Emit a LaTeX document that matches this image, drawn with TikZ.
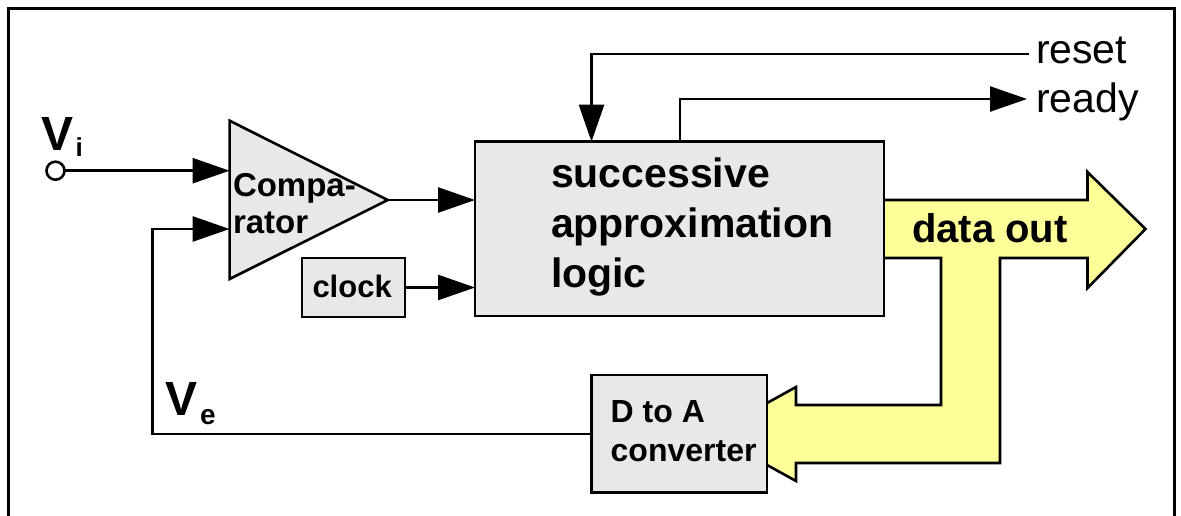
\documentclass[tikz,border=0pt]{standalone}
\usepackage{fontspec}
\setmainfont{Liberation Sans}
\usetikzlibrary{arrows.meta}
\definecolor{boxgray}{HTML}{E8E8E8}
\definecolor{busyellow}{HTML}{FFFF99}
\begin{document}
\begin{tikzpicture}[x=1pt,y=-1pt,line join=miter,
  conn/.style={line width=2.6pt},
  arr/.style={conn,-{Triangle[length=37pt,width=25pt]}},
  blk/.style={draw,line width=2.6pt,fill=boxgray,inner sep=0pt,outer sep=0pt,anchor=north west},
  lbl/.style={inner sep=0pt,outer sep=0pt,anchor=base west},
  mlbl/.style={inner sep=0pt,outer sep=0pt,anchor=west,align=left},
]
\useasboundingbox (0,0) rectangle (1181,515);
% frame
\draw[line width=3pt] (8.3,540) -- (8.3,8.3) -- (1174,8.3) -- (1174,540);

% data bus (yellow)
\fill[busyellow] (884,200) -- (1087.5,200) -- (1087.5,172) -- (1145.5,229) -- (1087.5,288)
  -- (1087.5,258) -- (1000,258) -- (1000,463) -- (796,463) -- (796,481) -- (711,434)
  -- (796,387) -- (796,405) -- (941,405) -- (941,258) -- (884,258) -- cycle;
\draw[conn] (884,200) -- (1087.5,200) -- (1087.5,172) -- (1145.5,229) -- (1087.5,288)
  -- (1087.5,258) -- (1000,258) -- (1000,463) -- (796,463) -- (796,481) -- (711,434)
  -- (796,387) -- (796,405) -- (941,405) -- (941,258) -- (884,258);

% blocks
\node[blk,minimum width=409pt,minimum height=174.3pt] (sal) at (475,141.7) {};
\node[blk,minimum width=103pt,minimum height=59pt] (clk) at (302,258) {};
\node[blk,minimum width=175.5pt,minimum height=117.7pt] (dac) at (591.5,375) {};

% comparator
\coordinate (ctl) at (229.6,120.7);
\coordinate (cbl) at (229.6,279);
\coordinate (ctip) at (387.7,200);
\coordinate (cin1) at (229.6,170.7);
\coordinate (cin2) at (229.6,229);
\draw[line width=2.6pt,fill=boxgray] (ctl) -- (ctip) -- (cbl) -- cycle;

% texts
\node[mlbl,font=\bfseries\fontsize{41}{50}\selectfont] (saltext) at (551,226.6)
  {successive\\approximation\\logic};
\node[mlbl,font=\bfseries\fontsize{33}{37}\selectfont] (comptext) at (233,203.5)
  {Compa-\\rator};
\node[mlbl,font=\bfseries\fontsize{32}{39}\selectfont] (dactext) at (610.7,431)
  {D to A\\converter};
\node[lbl,font=\bfseries\fontsize{31}{36}\selectfont] (clktext) at (312.5,297) {clock};
\node[lbl,font=\bfseries\fontsize{40}{46}\selectfont] (datatext) at (912,242) {data out};
\node[lbl,font=\fontsize{41}{48}\selectfont] (resettext) at (1036,63) {reset};
\node[lbl,font=\fontsize{41}{48}\selectfont] (readytext) at (1036,112) {ready};
\node[lbl,font=\bfseries\fontsize{48}{50}\selectfont] (vilabel) at (41.5,150) {V};
\node[lbl,font=\bfseries\fontsize{26}{30}\selectfont] (visub) at (75.5,156) {i};
\node[lbl,font=\bfseries\fontsize{48}{50}\selectfont] (velabel) at (165.5,415) {V};
\node[lbl,font=\bfseries\fontsize{28}{30}\selectfont] (vesub) at (200,424) {e};

% input terminal
\node[draw,circle,line width=2.6pt,fill=white,minimum size=18pt,inner sep=0pt,outer sep=0pt] (vi) at (55.5,170.7) {};

% connectors
\draw[arr] (vi.east) -- (cin1);
\coordinate (vecorner) at (152.7,229);
\draw[arr] (dac.west) -| (vecorner) -- (cin2);
\draw[arr] (ctip) -- (ctip -| sal.west);
\draw[arr] (clk.east) -- (clk.east -| sal.west);
\coordinate (resetend) at (1029,54);
\coordinate (resetin) at (591.5,141.7);
\draw[arr] (resetend) -| (resetin);
\coordinate (readyout) at (680,141.7);
\coordinate (readyend) at (1027,99);
\draw[arr] (readyout) |- (readyend);
\end{tikzpicture}
\end{document}
